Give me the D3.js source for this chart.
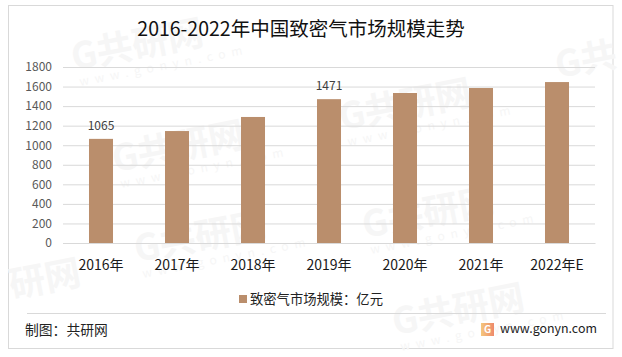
<!DOCTYPE html>
<html>
<head>
<meta charset="utf-8">
<script src="https://cdn.jsdelivr.net/npm/d3@7/dist/d3.min.js"></script>
<style>
  html, body { margin: 0; padding: 0; background: #fff; }
  svg { display: block; }
  text { font-family: "Noto Sans CJK SC", "Noto Sans", sans-serif; }
</style>
</head>
<body>
<svg id="chart" width="622" height="357"></svg>
<script>
const categories = ["2016年", "2017年", "2018年", "2019年", "2020年", "2021年", "2022年E"];
const marketSize = [1065, 1145, 1289, 1471, 1534, 1585, 1646];
const labelled = ["2016年", "2019年"];
const yTicks = [0, 200, 400, 600, 800, 1000, 1200, 1400, 1600, 1800];

const svg = d3.select("#chart");
const margin = { top: 67, right: 27, bottom: 114, left: 63 };
const width = +svg.attr("width") - margin.left - margin.right;
const height = +svg.attr("height") - margin.top - margin.bottom;

// outer frame
svg.append("rect")
    .attr("x", 8.5).attr("y", 5.5)
    .attr("width", 604.5).attr("height", 343)
    .attr("fill", "#fff")
    .attr("stroke", "#d9d9d9");

// faint watermark stamps, the ones at the frame edge only show part of the name
const stamps = [
    [74, 70, "G共研网", true],
    [115, 172, "G共研网", true],
    [342, 130, "G共研网", true],
    [137, 262, "G共研网", true],
    [365, 238, "G共研网", true],
    [395, 335, "G共研网", true],
    [558, 78, "G共", false],
    [12, 298, "研网", false]
];
const wm = svg.append("g").attr("fill", "#f6f6f6");
stamps.forEach(s => {
    const st = wm.append("g").attr("transform", `translate(${s[0]},${s[1]}) rotate(-11)`);
    st.append("text").attr("font-size", 36).attr("font-weight", 700).text(s[2]);
    if (s[3]) {
        st.append("text").attr("x", 3).attr("y", 17).attr("font-size", 12)
            .attr("letter-spacing", 6).text("www.gonyn.com");
    }
});

const g = svg.append("g").attr("transform", `translate(${margin.left},${margin.top})`);

const x = d3.scaleBand()
    .domain(categories)
    .range([0, width])
    .paddingInner(0.684)
    .paddingOuter(0.342);

const y = d3.scaleLinear()
    .domain([0, 1800])
    .range([height, 0]);

// gridlines + y labels
const yAxis = g.append("g")
    .call(d3.axisLeft(y).tickValues(yTicks).tickFormat(d3.format("d")).tickSize(-width).tickPadding(11));
yAxis.select(".domain").remove();
yAxis.selectAll("line").attr("stroke", "#d9d9d9");
yAxis.selectAll("text")
    .attr("fill", "#595959")
    .style("font-size", "12px");

const xAxis = g.append("g")
    .attr("transform", `translate(0,${height})`)
    .call(d3.axisBottom(x).tickSize(0).tickPadding(17));
xAxis.select(".domain").attr("stroke", "#d9d9d9");
xAxis.selectAll("text")
    .attr("fill", "#1a1a1a")
    .style("font-size", "14px");

g.selectAll(".bar")
    .data(categories)
    .enter()
    .append("rect")
    .attr("class", "bar")
    .attr("x", d => x(d))
    .attr("y", (d, i) => y(marketSize[i]))
    .attr("width", x.bandwidth())
    .attr("height", (d, i) => height - y(marketSize[i]))
    .attr("fill", "#ba8e6c");

g.selectAll(".val")
    .data(categories.filter(d => labelled.includes(d)))
    .enter()
    .append("text")
    .attr("class", "val")
    .attr("x", d => x(d) + x.bandwidth() / 2)
    .attr("y", d => y(marketSize[categories.indexOf(d)]) - 9)
    .attr("text-anchor", "middle")
    .attr("fill", "#404040")
    .attr("font-size", 12)
    .text(d => marketSize[categories.indexOf(d)]);

// title
svg.append("text")
    .attr("x", 301).attr("y", 36)
    .attr("text-anchor", "middle")
    .attr("fill", "#111")
    .attr("font-size", 19.5)
    .text("2016-2022年中国致密气市场规模走势");

// legend
svg.append("rect")
    .attr("x", 239).attr("y", 295)
    .attr("width", 8).attr("height", 8)
    .attr("fill", "#ba8e6c");
svg.append("text")
    .attr("x", 250).attr("y", 303.5)
    .attr("fill", "#222")
    .attr("font-size", 13.3)
    .text("致密气市场规模：亿元");

// footer
svg.append("line")
    .attr("x1", 27).attr("x2", 606)
    .attr("y1", 313.5).attr("y2", 313.5)
    .attr("stroke", "#d9d9d9");
svg.append("text")
    .attr("x", 25).attr("y", 335)
    .attr("fill", "#222")
    .attr("font-size", 13.8)
    .text("制图：共研网");

const grad = svg.append("defs").append("linearGradient").attr("id", "logoGrad");
grad.append("stop").attr("offset", "0").attr("stop-color", "#f5c77e");
grad.append("stop").attr("offset", "1").attr("stop-color", "#ee8a6a");
svg.append("rect")
    .attr("x", 481).attr("y", 323)
    .attr("width", 13).attr("height", 13)
    .attr("fill", "url(#logoGrad)");
svg.append("text")
    .attr("x", 484).attr("y", 333)
    .attr("fill", "#fff")
    .attr("font-size", 10)
    .attr("font-weight", 700)
    .text("G");
svg.append("text")
    .attr("x", 500).attr("y", 333)
    .attr("fill", "#222")
    .attr("font-size", 12.4)
    .text("www.gonyn.com");
</script>
</body>
</html>
